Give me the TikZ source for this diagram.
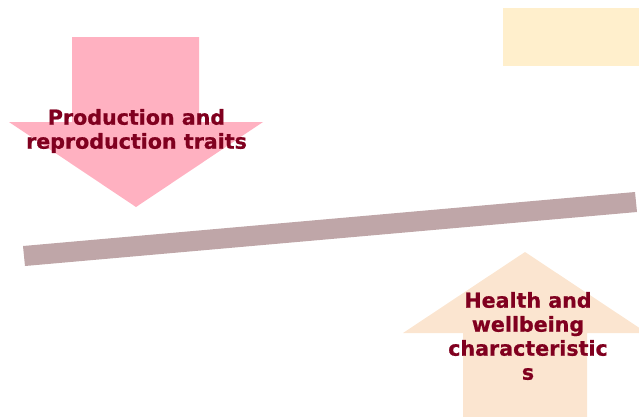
\documentclass[tikz,border=0pt]{standalone}
\usepackage{fontspec}
\setmainfont{DejaVu Sans}
\newfontfamily\lblfont{DejaVu Sans Bold}[FakeBold=0.8]
\definecolor{pinkarrow}{HTML}{FFB1C1}
\definecolor{peacharrow}{HTML}{FBE5D0}
\definecolor{yellowbox}{HTML}{FFEFCC}
\definecolor{barcol}{HTML}{BFA6A8}
\definecolor{txtred}{HTML}{80001F}
\tikzset{
  lbl/.style={text=txtred, font=\lblfont\fontsize{20.6}{24}\selectfont, align=center, inner sep=0pt}
}
\begin{document}
\begin{tikzpicture}[x=1pt,y=-1pt]
\useasboundingbox (0,0) rectangle (639,416);
\clip (0,0) rectangle (639,416);
% top-right box
\fill[yellowbox] (503,8) rectangle (639,66);
% down arrow
\fill[pinkarrow] (72,37) -- (199,37) -- (199,122) -- (263,122) -- (136,207) -- (9,122) -- (72,122) -- cycle;
% up arrow
\fill[peacharrow] (463,430) -- (463,333) -- (403,333) -- (525,252) -- (647,333) -- (587,333) -- (587,430) -- cycle;
% bar
\fill[barcol] (23,246) -- (635,192) -- (637,212) -- (25,266) -- cycle;
% labels
\node[lbl] (prod) at (136.5,131) {Production and\\reproduction traits};
\node[lbl] (health) at (528,336) {Health and\\wellbeing\\characteristic\\s};
\end{tikzpicture}
\end{document}
